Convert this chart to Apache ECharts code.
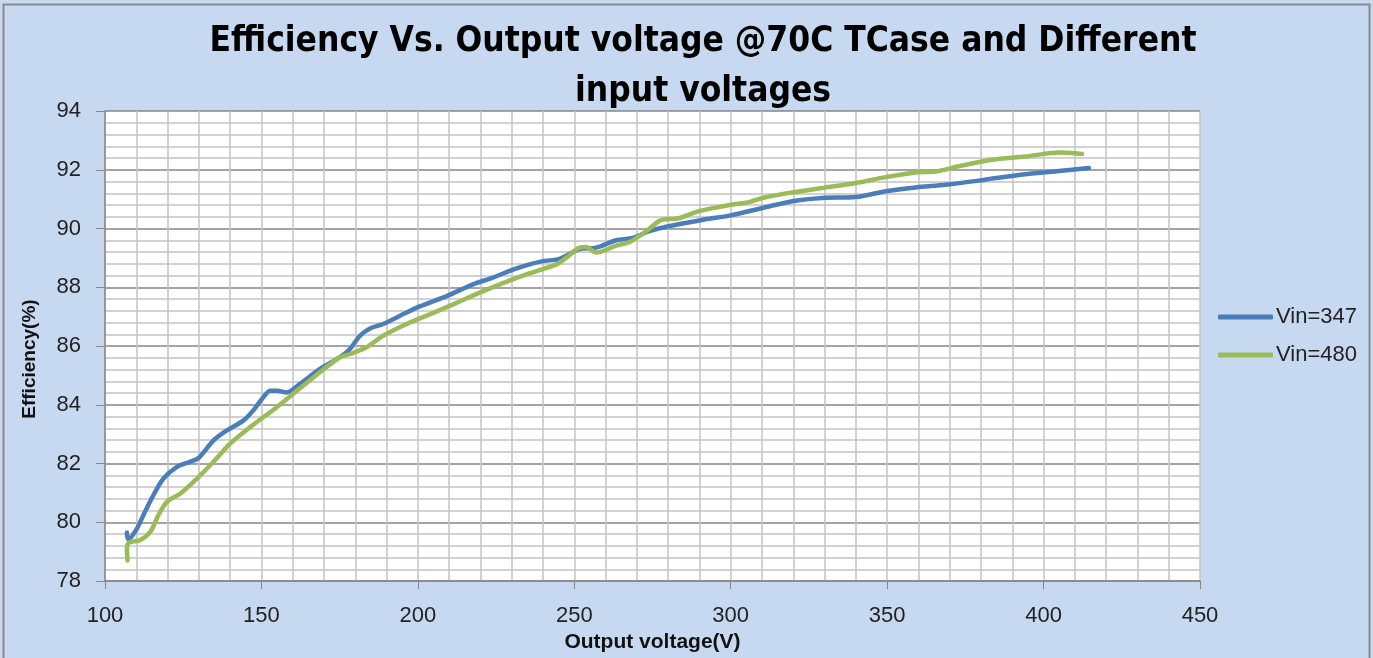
<!DOCTYPE html>
<html>
<head>
<meta charset="utf-8">
<script src="https://cdn.jsdelivr.net/npm/echarts@6/dist/echarts.min.js"></script>
<style>
html,body{margin:0;padding:0;background:#c6d9f1;}
#chart{width:1373px;height:658px;}
</style>
</head>
<body>
<div id="chart"></div>
<script>
const titleText = 'Efficiency Vs. Output voltage @70C TCase and Different\ninput voltages';
const xAxisName = 'Output voltage(V)';
const yAxisName = 'Efficiency(%)';
const seriesNames = ['Vin=347', 'Vin=480'];

const vout347 = [107.0,107.4,110,112.3,115.5,118.7,123,127.2,129.9,134.7,139,144.3,147.4,150.6,152.8,155,158,162.3,168.7,175.1,178.3,181.5,184.7,188.9,194.3,200.6,209.2,217.6,224,230.4,235.7,240,245.3,251.7,257,263.4,268.7,274,279.4,291.6,299.6,310.2,319.7,329.3,340,349.5,359.1,368.7,379.3,383.6,394.2,404.9,414.5];
const eff347  = [79.65,79.42,79.75,80.25,80.93,81.49,81.89,82.06,82.19,82.79,83.13,83.47,83.81,84.26,84.48,84.48,84.42,84.71,85.22,85.62,85.9,86.35,86.6,86.75,87.03,87.35,87.7,88.1,88.33,88.6,88.78,88.89,88.97,89.3,89.35,89.6,89.68,89.91,90.06,90.31,90.44,90.7,90.93,91.04,91.07,91.27,91.4,91.49,91.63,91.7,91.85,91.96,92.06];

const vout480 = [107.2,107.0,107.6,111.3,114.5,117.1,119.8,124.1,129.4,134.7,140,146.4,154.9,162.3,168.7,175.1,178.3,183.6,188.9,196.4,203.8,211.3,219.8,226.2,234.7,244.3,247.4,251.7,253.8,257,263.4,267.7,273,278.3,282.5,289.9,300.6,305.9,310.2,319.7,329.3,340,349.5,359.1,365.5,372.9,383.6,394.2,404.9,412.3];
const eff480  = [78.7,79.1,79.3,79.4,79.68,80.25,80.7,80.98,81.49,82.06,82.68,83.24,83.92,84.56,85.11,85.62,85.73,85.96,86.35,86.75,87.08,87.42,87.82,88.1,88.44,88.78,89.0,89.35,89.37,89.18,89.42,89.54,89.91,90.31,90.33,90.59,90.82,90.9,91.04,91.23,91.38,91.55,91.75,91.91,91.94,92.12,92.34,92.45,92.59,92.54];

const xMin = 100, xMax = 450, xStep = 50;
const yMin = 78, yMax = 94, yStep = 2;

const pairs = (xs, ys) => xs.map((x, i) => [x, ys[i]]);
const tickFont = "'Liberation Sans', Arial, sans-serif";
const titleFont = "'Liberation Sans Narrow', 'DejaVu Sans Condensed', sans-serif";

const chart = echarts.init(document.getElementById('chart'), null, {renderer: 'canvas'});
chart.setOption({
  backgroundColor: '#c6d9f1',
  animation: false,
  title: {
    text: titleText,
    left: 698,
    top: 12,
    textAlign: 'center',
    textStyle: {fontFamily: titleFont, fontWeight: 'bold', fontSize: 35, lineHeight: 50, color: '#000'}
  },
  graphic: [{
    type: 'rect', silent: true,
    shape: {x: 3.5, y: 4.5, width: 1366, height: 700},
    style: {fill: null, stroke: '#8a8a8a', lineWidth: 2}
  }],
  legend: {
    orient: 'vertical',
    left: 1213,
    top: 301,
    itemWidth: 55,
    itemHeight: 5,
    itemGap: 16,
    icon: 'roundRect',
    textStyle: {fontFamily: tickFont, fontSize: 22, color: '#222', padding: [0,0,0,-2]},
    data: seriesNames
  },
  grid: {left: 105, right: 173, top: 111, bottom: 75, show: true, backgroundColor: '#ffffff', borderWidth: 0},
  xAxis: {
    type: 'value', min: xMin, max: xMax, interval: xStep,
    name: xAxisName, nameLocation: 'middle', nameGap: 48,
    nameTextStyle: {fontFamily: tickFont, fontWeight: 'bold', fontSize: 21, color: '#111'},
    axisLine: {show: true, lineStyle: {color: '#868686', width: 1.5}},
    axisTick: {show: true, length: 8, inside: false, lineStyle: {color: '#868686'}},
    axisLabel: {fontFamily: tickFont, fontSize: 22, color: '#222', margin: 24},
    splitLine: {show: true, lineStyle: {color: '#c4c4c4', width: 1.5}},
    minorTick: {show: false, splitNumber: 5},
    minorSplitLine: {show: true, lineStyle: {color: '#c4c4c4', width: 1.5}}
  },
  yAxis: {
    type: 'value', min: yMin, max: yMax, interval: yStep,
    name: yAxisName, nameLocation: 'middle', nameGap: 66, nameRotate: 90,
    nameTextStyle: {fontFamily: tickFont, fontWeight: 'bold', fontSize: 19, color: '#111', padding: [0, 26, 0, 0]},
    axisLine: {show: true, lineStyle: {color: '#868686', width: 1.5}},
    axisTick: {show: true, length: 9, lineStyle: {color: '#868686'}},
    axisLabel: {fontFamily: tickFont, fontSize: 22, color: '#222', margin: 24},
    splitLine: {show: true, lineStyle: {color: '#868686', width: 1.5}},
    minorTick: {show: false, splitNumber: 5},
    minorSplitLine: {show: true, lineStyle: {color: '#c4c4c4', width: 1.5}}
  },
  series: [
    {name: seriesNames[0], type: 'line', data: pairs(vout347, eff347), smooth: 0.3, showSymbol: false, symbol: 'none',
     lineStyle: {color: '#4a7ebb', width: 4.5, cap: 'round', join: 'round'}, itemStyle: {color: '#4a7ebb'}, z: 3},
    {name: seriesNames[1], type: 'line', data: pairs(vout480, eff480), smooth: 0.3, showSymbol: false, symbol: 'none',
     lineStyle: {color: '#9bbb59', width: 4.5, cap: 'round', join: 'round'}, itemStyle: {color: '#9bbb59'}, z: 4}
  ]
});
</script>
</body>
</html>
